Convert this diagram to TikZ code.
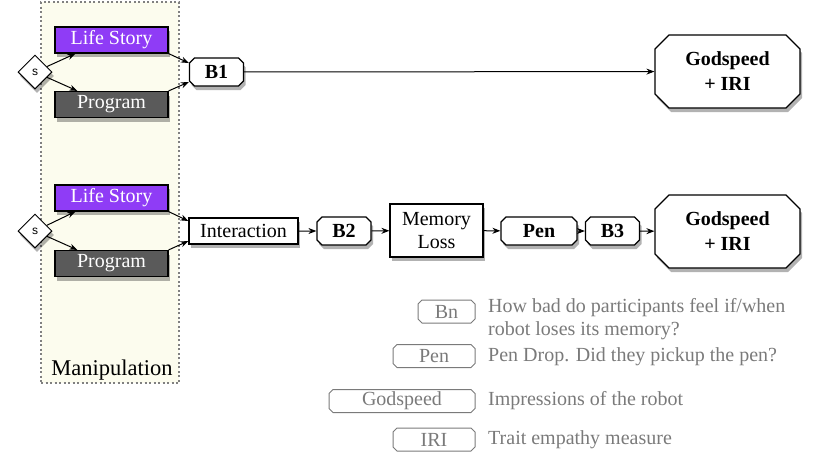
\documentclass[tikz,border=0pt]{standalone}
\usepackage{fontspec}
\setmainfont{Liberation Serif}
\setsansfont{Liberation Sans}
\usetikzlibrary{shapes.geometric,shapes.misc,shadows,arrows.meta}

\definecolor{lifepurple}{HTML}{8F3CF6}
\definecolor{proggray}{HTML}{5A5A5A}
\definecolor{manipfill}{HTML}{FCFCEE}
\definecolor{keygray}{HTML}{7A7A7A}

\tikzset{
  softshadow/.style={drop shadow={shadow xshift=2pt,shadow yshift=-4pt,opacity=0.3,fill=black}},
  condbox/.style={draw,line width=1.2pt,text=white,minimum width=113pt,minimum height=26pt,inner sep=0pt,softshadow},
  plainbox/.style={draw,line width=1.2pt,fill=white,inner sep=0pt,softshadow},
  measure/.style={chamfered rectangle,chamfered rectangle xsep=2.5pt,chamfered rectangle ysep=2.5pt,draw,line width=1.2pt,fill=white,
    inner sep=0pt,minimum width=54pt,minimum height=28pt,font=\fontsize{20}{23}\selectfont\bfseries,softshadow},
  outcome/.style={chamfered rectangle,chamfered rectangle xsep=7pt,chamfered rectangle ysep=7pt,draw,line width=1.2pt,
    fill=white,inner sep=0pt,minimum width=145pt,minimum height=73pt,align=center,
    font=\fontsize{20}{25}\selectfont\bfseries,softshadow},
  splitter/.style={diamond,draw,line width=1pt,fill=white,inner sep=0pt,minimum size=34pt,
    font=\sffamily\fontsize{12}{13}\selectfont,softshadow},
  keybox/.style={chamfered rectangle,chamfered rectangle xsep=2pt,chamfered rectangle ysep=2pt,draw=keygray,line width=1pt,text=keygray,
    inner sep=0pt,minimum height=23pt,font=\fontsize{20}{23}\selectfont},
  keytext/.style={anchor=west,text=keygray,align=left,inner sep=0pt,font=\fontsize{20}{23}\selectfont},
  flow/.style={-{Stealth[length=8pt,width=6pt]},line width=1pt}
}

\begin{document}
\begin{tikzpicture}[x=1pt,y=-1pt,font=\fontsize{20}{23}\selectfont]
  \useasboundingbox (0,0) rectangle (818,456);

  % manipulation column
  \node[draw=gray,dash pattern=on 2pt off 2.5pt,line width=1.2pt,fill=manipfill,minimum width=138pt,minimum height=381pt,inner sep=0pt] (manip) at (110,192.5) {};
  \node[font=\fontsize{22.5}{26}\selectfont] (maniplabel) at (112,370) {Manipulation};

  % first study
  \node[condbox,fill=lifepurple] (life1) at (111.5,40) {Life Story};
  \node[condbox,fill=proggray] (prog1) at (111.5,104.5) {Program};
  \node[splitter] (s1) at (35,72) {s};
  \node[measure] (b1) at (216.5,72) {B1};
  \node[outcome] (god1) at (727.5,71.5) {Godspeed\\+ IRI};
  \draw[flow] (s1) -- ([xshift=21pt]life1.south west);
  \draw[flow] (s1) -- ([xshift=23pt]prog1.north west);
  \draw[flow] (life1.south east) -- ([yshift=9pt]b1.west);
  \draw[flow] (prog1.north east) -- ([yshift=-10pt]b1.west);
  \draw[flow] (b1) -- (god1);

  % second study
  \node[condbox,fill=lifepurple] (life2) at (111.5,198) {Life Story};
  \node[condbox,fill=proggray] (prog2) at (111.5,263.5) {Program};
  \node[splitter] (s2) at (35,231) {s};
  \node[plainbox,minimum width=109pt,minimum height=26pt] (inter) at (243.5,231) {Interaction};
  \draw[flow] (s2) -- ([xshift=21pt]life2.south west);
  \draw[flow] (s2) -- ([xshift=23pt]prog2.north west);
  \draw[flow] (life2.south east) -- ([yshift=10pt]inter.west);
  \draw[flow] (prog2.north east) -- ([yshift=-10pt]inter.west);

  \node[measure] (b2) at (344,231) {B2};
  \node[plainbox,minimum width=93pt,minimum height=53pt,align=center] (mem) at (436.5,230.5) {Memory\\Loss};
  \node[measure,minimum width=76pt] (pen) at (539,231) {Pen};
  \node[measure] (b3) at (612.5,231) {B3};
  \node[outcome] (god2) at (727.5,231.5) {Godspeed\\+ IRI};
  \draw[flow] (inter) -- (b2);
  \draw[flow] (b2) -- (mem);
  \draw[flow] (mem) -- (pen);
  \draw[flow] (pen) -- (b3);
  \draw[flow] (b3) -- (god2);

  % key
  \node[keybox,minimum width=57pt] (keyb) at (446.5,311.5) {Bn};
  \node[keybox,minimum width=82pt] (keypen) at (434,356) {Pen};
  \node[keybox,minimum width=146pt] (keygod) at (402,401) {Godspeed};
  \node[keybox,minimum width=82pt] (keyiri) at (434,439.5) {IRI};
  \node[keytext] (keybtext) at (488,319) {How bad do participants feel if/when\\robot loses its memory?};
  \node[keytext] (keypentext) at (488,357) {Pen Drop. Did they pickup the pen?};
  \node[keytext] (keygodtext) at (488,401) {Impressions of the robot};
  \node[keytext] (keyiritext) at (488,440) {Trait empathy measure};
\end{tikzpicture}
\end{document}
